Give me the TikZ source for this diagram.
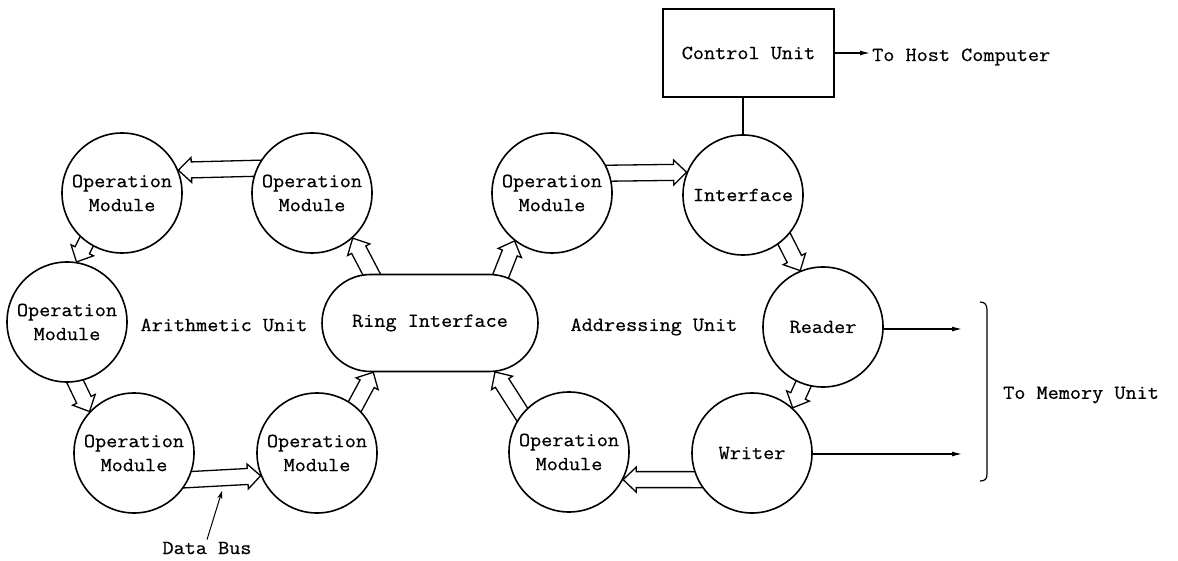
\documentclass[tikz,border=0pt]{standalone}
\usepackage{fontspec}
\setmonofont{Latin Modern Mono}[FakeStretch=1.08,FakeBold=0.6]
\usetikzlibrary{calc,shapes.misc,arrows.meta}
\pgfdeclarelayer{bg}
\pgfsetlayers{bg,main}

\tikzset{
  lbl/.style={font=\ttfamily\fontsize{20}{24}\selectfont, align=center, inner sep=2pt},
  module/.style={lbl, circle, draw, line width=1.6pt, fill=white,
                 minimum size=120pt, inner sep=0pt},
  ringbox/.style={lbl, rounded rectangle, draw, line width=1.6pt, fill=white,
                  minimum width=220pt, minimum height=97pt},
  ctrlbox/.style={lbl, rectangle, draw, line width=1.4pt, fill=white,
                  minimum width=171pt, minimum height=88pt},
  busline/.style={line width=1.3pt, line join=miter},
  signal/.style={line width=1.2pt, -{Latex[length=10pt,width=5pt]}},
  pointer/.style={line width=1pt, -{Stealth[length=8pt,width=5pt]}}
}

% Hollow double-line bus arrow from a point on the source border
% to a point on the target border.
\newcommand\busarrow[2]{%
  \coordinate (ba-t) at #2;
  \coordinate (ba-s) at ($#1!-8pt!#2$);
  \coordinate (ba-b) at ($(ba-t)!13pt!(ba-s)$);
  \draw[busline]
    ($(ba-s)!8pt!90:(ba-t)$) -- ($(ba-b)!8pt!90:(ba-t)$)
    -- ($(ba-b)!12.5pt!90:(ba-t)$) -- (ba-t)
    -- ($(ba-b)!12.5pt!-90:(ba-t)$) -- ($(ba-b)!8pt!-90:(ba-t)$)
    -- ($(ba-s)!8pt!-90:(ba-t)$);
}

\begin{document}
\begin{tikzpicture}[x=1pt,y=-1pt]
\useasboundingbox (0,0) rectangle (1178,561);

% arithmetic ring
\node[module] (om1) at (122,193) {Operation\\Module};
\node[module] (om2) at (312,193) {Operation\\Module};
\node[module] (om3) at (67,322)  {Operation\\Module};
\node[module] (om4) at (134,453) {Operation\\Module};
\node[module] (om5) at (317,453) {Operation\\Module};

\node[ringbox] (ri) at (430,323) {Ring Interface};

% addressing ring
\node[module] (om6)    at (552,193) {Operation\\Module};
\node[module] (iface)  at (743,195) {Interface};
\node[module] (reader) at (823,327) {Reader};
\node[module] (writer) at (752,453) {Writer};
\node[module] (om7)    at (569,452) {Operation\\Module};

\node[ctrlbox] (cu) at (748.5,53) {Control Unit};

\node[lbl] (arith) at (224,325) {Arithmetic Unit};
\node[lbl] (addr)  at (654,327) {Addressing Unit};

% bus arrows, drawn underneath the modules
\begin{pgfonlayer}{bg}
  \busarrow{(om2.156)}{(om1.22)}
  \busarrow{(om1.234)}{(om3.81)}
  \busarrow{(om3.278)}{(om4.137)}
  \busarrow{(om4.334)}{(om5.202)}
  \busarrow{(om5.51)}{(ri.221)}
  \busarrow{(ri.140)}{(om2.312)}
  \busarrow{(ri.34)}{(om6.232)}
  \busarrow{(om6.19)}{(iface.158)}
  \busarrow{(iface.313)}{(reader.112)}
  \busarrow{(reader.251)}{(writer.48)}
  \busarrow{(writer.206)}{(om7.333)}
  \busarrow{(om7.141)}{(ri.323)}
\end{pgfonlayer}

% control unit links
\draw[line width=1.2pt] (iface.north) -- (iface.north |- cu.south);
\node[lbl, anchor=west] (host) at (870,57) {To Host Computer};
\draw[signal] (cu.east) -- (cu.east -| host.west);

% memory unit links
\coordinate (rdend) at (962,329);
\coordinate (wrend) at (962,454);
\draw[signal] (reader.east |- rdend) -- (rdend);
\draw[signal] (writer.east |- wrend) -- (wrend);
\draw[line width=1.2pt] (980,302) .. controls (985,302) and (987,305) .. (987,310)
  -- (987,474) .. controls (987,479) and (985,481) .. (980,481);
\node[lbl, anchor=west] (mem) at (1001,395) {To Memory Unit};

% data bus label
\node[lbl] (db) at (207,548) {Data Bus};
\coordinate (busmark) at (222,491);
\draw[pointer] (db.north) -- (busmark);

\end{tikzpicture}
\end{document}
